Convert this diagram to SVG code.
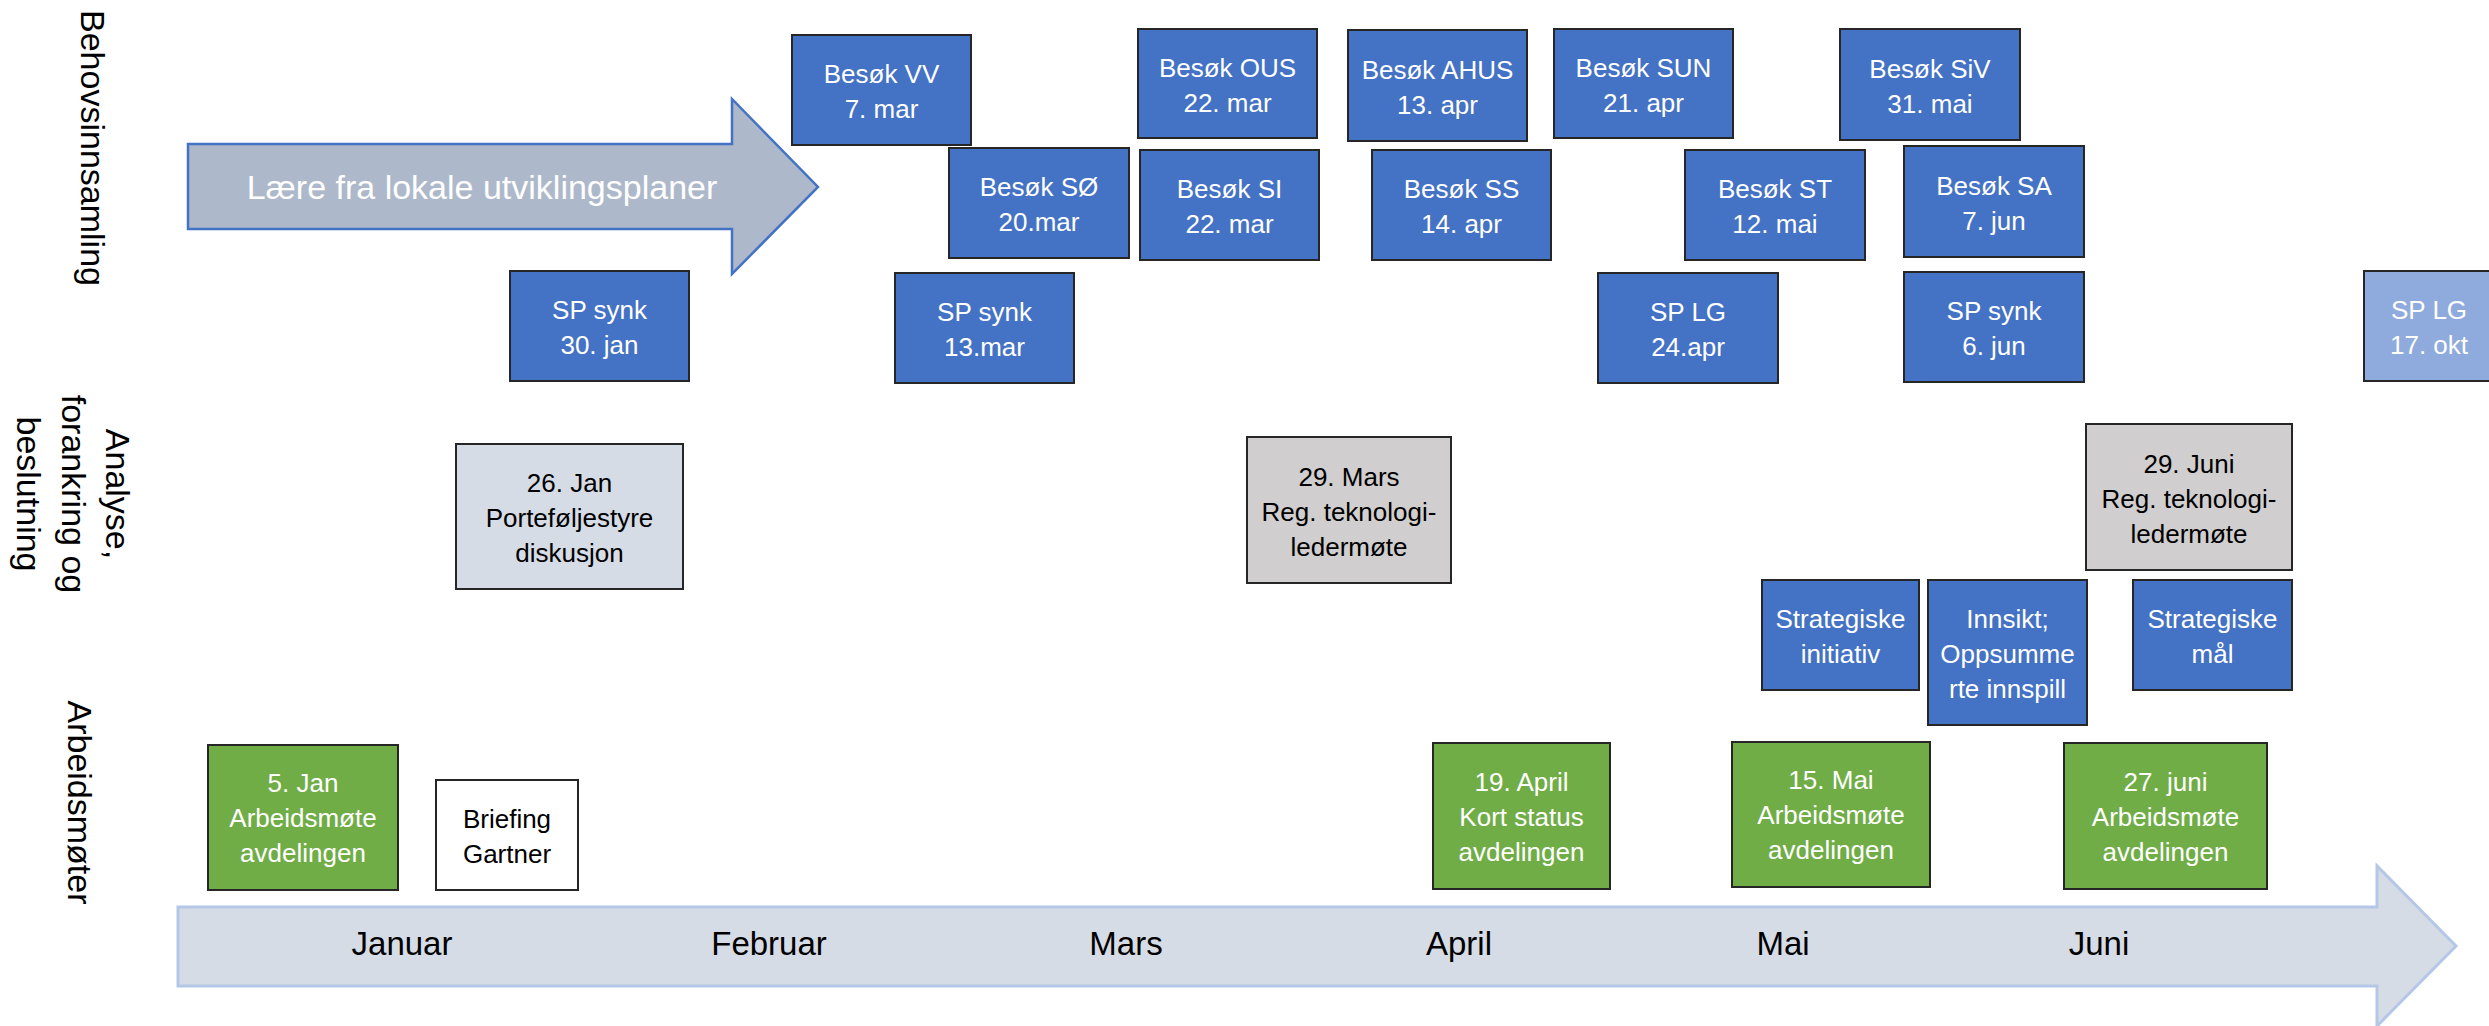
<svg xmlns="http://www.w3.org/2000/svg" width="2489" height="1026" viewBox="0 0 2489 1026">
<style>
text{font-family:"Liberation Sans",Arial,sans-serif}
.box{stroke:#262626;stroke-width:2}
.blue{fill:#4472C4}
.lblue{fill:#8FAADC}
.green{fill:#70AD47}
.gray{fill:#D0CECE}
.pale{fill:#D6DCE5}
.white{fill:#FFFFFF}
.t{font-size:26px;text-anchor:middle}
.tw{fill:#FFFFFF}
.tb{fill:#000000}
.lane{font-size:34px;text-anchor:middle;fill:#000000}
.month{font-size:33px;text-anchor:middle;fill:#000000}
</style>
<rect width="2489" height="1026" fill="#FFFFFF"/>

<g id="lane-labels">
<text class="lane" transform="translate(81,148) rotate(90)">Behovsinnsamling</text>
<text class="lane" transform="translate(0,494) rotate(90)"><tspan x="0" y="-106">Analyse,</tspan><tspan x="0" y="-61.5">forankring og</tspan><tspan x="0" y="-17">beslutning</tspan></text>
<text class="lane" transform="translate(68,802.5) rotate(90)">Arbeidsmøter</text>
</g>

<g id="arrow-lokale">
<polygon points="188,144 732,144 732,99 818,187 732,274 732,229 188,229" fill="#ADB9CA" stroke="#4472C4" stroke-width="2.5"/>
<text x="482" y="199" font-size="34" text-anchor="middle" fill="#FFFFFF">Lære fra lokale utviklingsplaner</text>
</g>

<g id="timeline">
<polygon points="178,907 2377,907 2377,866 2456,946 2377,1026 2377,986 178,986" fill="#D6DCE5" stroke="#B4C7E7" stroke-width="3"/>
<text class="month" x="402" y="955">Januar</text>
<text class="month" x="769" y="955">Februar</text>
<text class="month" x="1126" y="955">Mars</text>
<text class="month" x="1459" y="955">April</text>
<text class="month" x="1783" y="955">Mai</text>
<text class="month" x="2099" y="955">Juni</text>
</g>

<g id="besok-vv"><rect class="box blue" x="792" y="35" width="179" height="110"/><text class="t tw" x="881.5"><tspan x="881.5" y="83">Besøk VV</tspan><tspan x="881.5" y="118">7. mar</tspan></text></g>
<g id="besok-ous"><rect class="box blue" x="1138" y="29" width="179" height="109"/><text class="t tw"><tspan x="1227.5" y="76.5">Besøk OUS</tspan><tspan x="1227.5" y="111.5">22. mar</tspan></text></g>
<g id="besok-ahus"><rect class="box blue" x="1348" y="30" width="179" height="111"/><text class="t tw"><tspan x="1437.5" y="78.5">Besøk AHUS</tspan><tspan x="1437.5" y="113.5">13. apr</tspan></text></g>
<g id="besok-sun"><rect class="box blue" x="1554" y="29" width="179" height="109"/><text class="t tw"><tspan x="1643.5" y="76.5">Besøk SUN</tspan><tspan x="1643.5" y="111.5">21. apr</tspan></text></g>
<g id="besok-siv"><rect class="box blue" x="1840" y="29" width="180" height="111"/><text class="t tw"><tspan x="1930" y="77.5">Besøk SiV</tspan><tspan x="1930" y="112.5">31. mai</tspan></text></g>
<g id="besok-so"><rect class="box blue" x="949" y="148" width="180" height="110"/><text class="t tw"><tspan x="1039" y="196">Besøk SØ</tspan><tspan x="1039" y="231">20.mar</tspan></text></g>
<g id="besok-si"><rect class="box blue" x="1140" y="150" width="179" height="110"/><text class="t tw"><tspan x="1229.5" y="198">Besøk SI</tspan><tspan x="1229.5" y="233">22. mar</tspan></text></g>
<g id="besok-ss"><rect class="box blue" x="1372" y="150" width="179" height="110"/><text class="t tw"><tspan x="1461.5" y="198">Besøk SS</tspan><tspan x="1461.5" y="233">14. apr</tspan></text></g>
<g id="besok-st"><rect class="box blue" x="1685" y="150" width="180" height="110"/><text class="t tw"><tspan x="1775" y="198">Besøk ST</tspan><tspan x="1775" y="233">12. mai</tspan></text></g>
<g id="besok-sa"><rect class="box blue" x="1904" y="146" width="180" height="111"/><text class="t tw"><tspan x="1994" y="194.5">Besøk SA</tspan><tspan x="1994" y="229.5">7. jun</tspan></text></g>

<g id="sp-synk-jan"><rect class="box blue" x="510" y="271" width="179" height="110"/><text class="t tw"><tspan x="599.5" y="319">SP synk</tspan><tspan x="599.5" y="354">30. jan</tspan></text></g>
<g id="sp-synk-mar"><rect class="box blue" x="895" y="273" width="179" height="110"/><text class="t tw"><tspan x="984.5" y="321">SP synk</tspan><tspan x="984.5" y="356">13.mar</tspan></text></g>
<g id="sp-lg-apr"><rect class="box blue" x="1598" y="273" width="180" height="110"/><text class="t tw"><tspan x="1688" y="321">SP LG</tspan><tspan x="1688" y="356">24.apr</tspan></text></g>
<g id="sp-synk-jun"><rect class="box blue" x="1904" y="272" width="180" height="110"/><text class="t tw"><tspan x="1994" y="320">SP synk</tspan><tspan x="1994" y="355">6. jun</tspan></text></g>
<g id="sp-lg-okt"><rect class="box lblue" x="2364" y="271" width="150" height="110"/><text class="t tw"><tspan x="2429" y="319">SP LG</tspan><tspan x="2429" y="354">17. okt</tspan></text></g>

<g id="portefoljestyre"><rect class="box pale" x="456" y="444" width="227" height="145"/><text class="t tb"><tspan x="569.5" y="491.5">26. Jan</tspan><tspan x="569.5" y="526.5">Porteføljestyre</tspan><tspan x="569.5" y="561.5">diskusjon</tspan></text></g>
<g id="teknologi-mars"><rect class="box gray" x="1247" y="437" width="204" height="146"/><text class="t tb"><tspan x="1349" y="486">29. Mars</tspan><tspan x="1349" y="521">Reg. teknologi-</tspan><tspan x="1349" y="556">ledermøte</tspan></text></g>
<g id="teknologi-juni"><rect class="box gray" x="2086" y="424" width="206" height="146"/><text class="t tb"><tspan x="2189" y="473">29. Juni</tspan><tspan x="2189" y="508">Reg. teknologi-</tspan><tspan x="2189" y="543">ledermøte</tspan></text></g>
<g id="strategiske-initiativ"><rect class="box blue" x="1762" y="580" width="157" height="110"/><text class="t tw"><tspan x="1840.5" y="628">Strategiske</tspan><tspan x="1840.5" y="663">initiativ</tspan></text></g>
<g id="innsikt"><rect class="box blue" x="1928" y="580" width="159" height="145"/><text class="t tw"><tspan x="2007.5" y="628">Innsikt;</tspan><tspan x="2007.5" y="663">Oppsumme</tspan><tspan x="2007.5" y="698">rte innspill</tspan></text></g>
<g id="strategiske-mal"><rect class="box blue" x="2133" y="580" width="159" height="110"/><text class="t tw"><tspan x="2212.5" y="628">Strategiske</tspan><tspan x="2212.5" y="663">mål</tspan></text></g>

<g id="arbeidsmote-jan"><rect class="box green" x="208" y="745" width="190" height="145"/><text class="t tw"><tspan x="303" y="792">5. Jan</tspan><tspan x="303" y="827">Arbeidsmøte</tspan><tspan x="303" y="862">avdelingen</tspan></text></g>
<g id="briefing-gartner"><rect class="box white" x="436" y="780" width="142" height="110"/><text class="t tb"><tspan x="507" y="828">Briefing</tspan><tspan x="507" y="863">Gartner</tspan></text></g>
<g id="status-april"><rect class="box green" x="1433" y="743" width="177" height="146"/><text class="t tw"><tspan x="1521.5" y="791">19. April</tspan><tspan x="1521.5" y="826">Kort status</tspan><tspan x="1521.5" y="861">avdelingen</tspan></text></g>
<g id="arbeidsmote-mai"><rect class="box green" x="1732" y="742" width="198" height="145"/><text class="t tw"><tspan x="1831" y="789">15. Mai</tspan><tspan x="1831" y="824">Arbeidsmøte</tspan><tspan x="1831" y="859">avdelingen</tspan></text></g>
<g id="arbeidsmote-juni"><rect class="box green" x="2064" y="743" width="203" height="146"/><text class="t tw"><tspan x="2165.5" y="791">27. juni</tspan><tspan x="2165.5" y="826">Arbeidsmøte</tspan><tspan x="2165.5" y="861">avdelingen</tspan></text></g>

<g id="connectors"></g>
</svg>
